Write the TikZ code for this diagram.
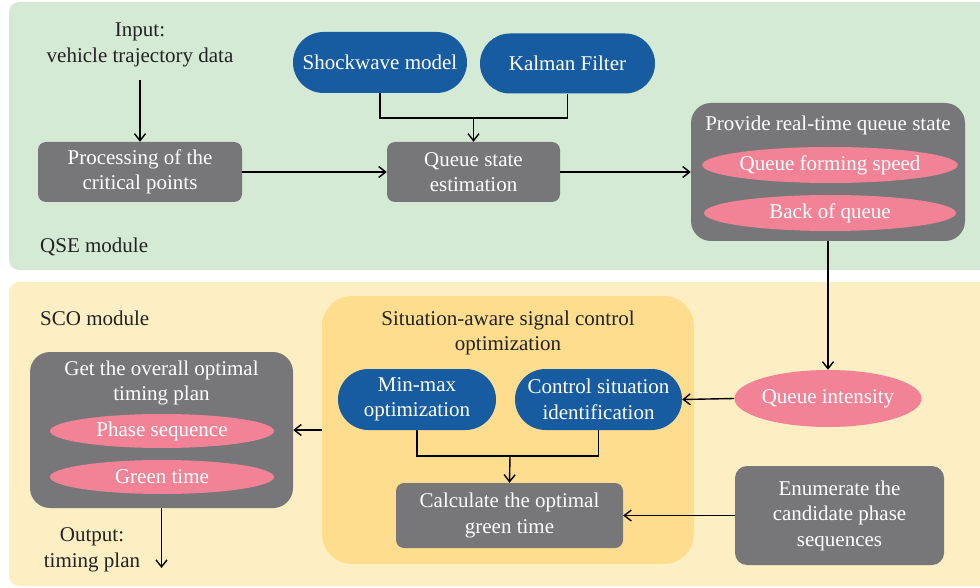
\documentclass[tikz,border=0pt]{standalone}
\usepackage{fontspec}
\setmainfont{Liberation Serif}
\usetikzlibrary{arrows.meta,shapes.misc,shapes.geometric}
\definecolor{qsebg}{HTML}{D4EAD4}
\definecolor{scobg}{HTML}{FDEFC3}
\definecolor{innerbg}{HTML}{FEDE8E}
\definecolor{boxgray}{HTML}{77777A}
\definecolor{pillblue}{HTML}{175BA0}
\definecolor{pinkell}{HTML}{F28396}
\definecolor{darktext}{HTML}{222222}
\tikzset{
  graybox/.style={fill=boxgray, text=white, rounded corners=8pt, inner sep=0pt, align=center},
  pill/.style={rounded rectangle, fill=pillblue, text=white, inner sep=0pt, align=center},
  pinkoval/.style={ellipse, fill=pinkell, text=white, inner sep=0pt, align=center},
  plain/.style={text=darktext, inner sep=0pt, align=center},
  conn/.style={line width=1.4pt, draw=black},
  arr/.style={conn, -{Straight Barb[length=7pt,width=11pt,line width=1.4pt]}}
}
\begin{document}
\begin{tikzpicture}[x=1pt,y=-1pt, font=\fontsize{21}{25.5}\selectfont]
\useasboundingbox (0,0) rectangle (980,588);
\begin{scope}
\clip (0,0) rectangle (980,588);
\fill[qsebg, rounded corners=10pt] (9,2) rectangle (1000,270);
\fill[scobg, rounded corners=10pt] (9,282) rectangle (1000,586);
\end{scope}

% QSE module
\node[plain] (input) at (140,45) {Input:\\vehicle trajectory data};
\node[graybox, minimum width=204, minimum height=60] (proc) at (140,172) {Processing of the\\critical points};
\node[pill, minimum width=174, minimum height=61] (shock) at (380,62.5) {Shockwave model};
\node[pill, minimum width=175, minimum height=60] (kal) at (567.5,63.5) {Kalman Filter};
\node[graybox, minimum width=173, minimum height=60] (qse) at (473.5,172) {Queue state\\estimation};
\node[graybox, rounded corners=20pt, minimum width=274, minimum height=138] (prov) at (828,172) {};
\node[plain, text=white] (provt) at (828,125) {Provide real-time queue state};
\node[pinkoval, minimum width=252, minimum height=36] (qfs) at (830,165) {Queue forming speed};
\node[pinkoval, minimum width=252, minimum height=36] (boq) at (830,213) {Back of queue};
\node[plain, anchor=west] (qsel) at (40,247) {QSE module};

\coordinate (j1) at (473.5,118);
\coordinate (inbot) at (140,80);
\draw[arr] (inbot) -- (proc.north);
\draw[conn] (shock.south) |- (j1) -| (kal.south);
\draw[arr] (j1) -- (qse.north);
\draw[arr] (proc.east) -- (qse.west);
\draw[arr] (qse.east) -- (prov.west);

% SCO module
\node[plain, anchor=west] (scol) at (40,318) {SCO module};
\node[fill=innerbg, rounded corners=30pt, minimum width=372, minimum height=268, inner sep=0pt] (sit) at (508,430) {};
\node[plain] (sitt) at (508,333) {Situation-aware signal control\\optimization};
\node[pill, minimum width=158, minimum height=61] (mm) at (417,399.5) {Min-max\\optimization};
\node[pill, minimum width=167, minimum height=61] (csi) at (598.5,399.5) {Control situation\\identification};
\node[graybox, minimum width=227, minimum height=65] (calc) at (509.5,515.5) {Calculate the optimal\\green time};
\node[graybox, rounded corners=12pt, minimum width=209, minimum height=99] (enum) at (839.5,515.5) {Enumerate the\\candidate phase\\sequences};
\node[pinkoval, minimum width=185, minimum height=57] (qi) at (828,398.5) {Queue intensity};
\node[graybox, rounded corners=20pt, minimum width=263, minimum height=156] (get) at (161.5,430) {};
\node[plain, text=white] (gett) at (161.5,383) {Get the overall optimal\\timing plan};
\node[pinkoval, minimum width=224, minimum height=34] (ps) at (162,431) {Phase sequence};
\node[pinkoval, minimum width=224, minimum height=34] (gt) at (162,477) {Green time};
\node[plain] (out) at (92,550) {Output:\\timing plan};
\coordinate (outend) at (161.5,568);
\coordinate (j2) at (510,456);

\draw[arr] (prov.south) -- (qi.north);
\draw[arr] (qi.west) -- (csi.east);
\draw[conn] (mm.south) |- (j2) -| (csi.south);
\draw[arr] (j2) -- (calc.north);
\draw[arr] (enum.west) -- (calc.east);
\draw[arr] (sit.west) -- (get.east);
\draw[arr] (get.south) -- (outend);
\end{tikzpicture}
\end{document}
